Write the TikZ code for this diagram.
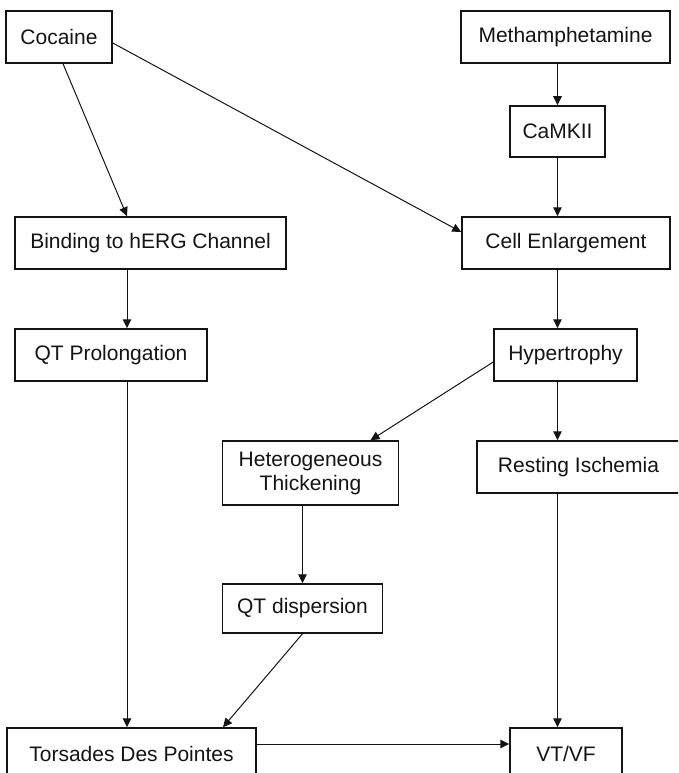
\documentclass[tikz,border=0pt]{standalone}
\usepackage{fontspec}
\setmainfont{Liberation Sans}
\usepackage{tikz}
\usetikzlibrary{arrows.meta, calc}
\definecolor{flowink}{RGB}{20,20,20}
\tikzset{
  %% ---- boxes ----
  box/.style   = {rectangle, draw=flowink, line width=1.5pt, fill=white,
                  minimum width=#1, minimum height=52pt, inner sep=0pt,
                  align=center, text=flowink,
                  font=\fontsize{21}{24}\selectfont},
  box/.default = 100pt,
  %% ---- arrows ----
  arr/.style   = {-{Triangle[length=9pt, width=8.5pt]}, line width=1pt, color=flowink},
}
\begin{document}
\begin{tikzpicture}[x=1pt, y=-1pt]
\useasboundingbox (0,0) rectangle (678,773);
\clip (0,0) rectangle (678,773);
% lanes the vertical arrows run down
\coordinate (llane) at (127,0);
\coordinate (rlane) at (557.5,0);
% top row
\node[box=106pt]                     (coc)  at (59,37)      {Cocaine};
\node[box=209pt]                     (meth) at (565.5,37)   {Methamphetamine};
\node[box=95pt, minimum height=51pt] (camk) at (557.5,131.5) {CaMKII};
\node[box=271pt]                     (bind) at (150.5,243)  {Binding to hERG Channel};
\node[box=208pt]                     (cell) at (566,243)    {Cell Enlargement};
\node[box=192pt]                     (qtp)  at (111,355)    {QT Prolongation};
\node[box=143pt]                     (hyp)  at (565.5,355)  {Hypertrophy};
\node[box=176pt, minimum height=64pt] (het) at (310.5,473)  {Heterogeneous\\Thickening};
\node[box=203pt]                     (rest) at (578.5,467)  {Resting Ischemia};
\node[box=160pt, minimum height=49pt] (qtd) at (302.5,608.5) {QT dispersion};
% bottom row, runs off the page
\node[box=249pt]                     (tdp)  at (131.5,754)  {Torsades Des Pointes};
\node[box=112pt]                     (vtvf) at (566,754)    {VT/VF};

% cocaine branch
\draw[arr] ([xshift=4pt]coc.south) -- (bind.north -| llane);
\draw[arr] ([yshift=-6pt]coc.east) -- ([yshift=11pt]cell.west);
\draw[arr] (bind.south -| llane) -- (qtp.north -| llane);
\draw[arr] (qtp.south -| llane) -- (tdp.north -| llane);
% methamphetamine branch
\draw[arr] (meth.south -| rlane) -- (camk.north);
\draw[arr] (camk.south) -- (cell.north -| rlane);
\draw[arr] (cell.south -| rlane) -- (hyp.north -| rlane);
\draw[arr] (hyp.south -| rlane) -- (rest.north -| rlane);
\draw[arr] (rest.south -| rlane) -- (vtvf.north -| rlane);
\draw[arr] ([yshift=-7pt]hyp.west) -- ([xshift=60pt]het.north);
\draw[arr] (het.south -| qtd) -- (qtd.north);
\draw[arr] (qtd.south) -- ([xshift=91.5pt]tdp.north);
\draw[arr] ([yshift=10pt]tdp.east) -- ([yshift=10pt]vtvf.west);
\end{tikzpicture}
\end{document}
